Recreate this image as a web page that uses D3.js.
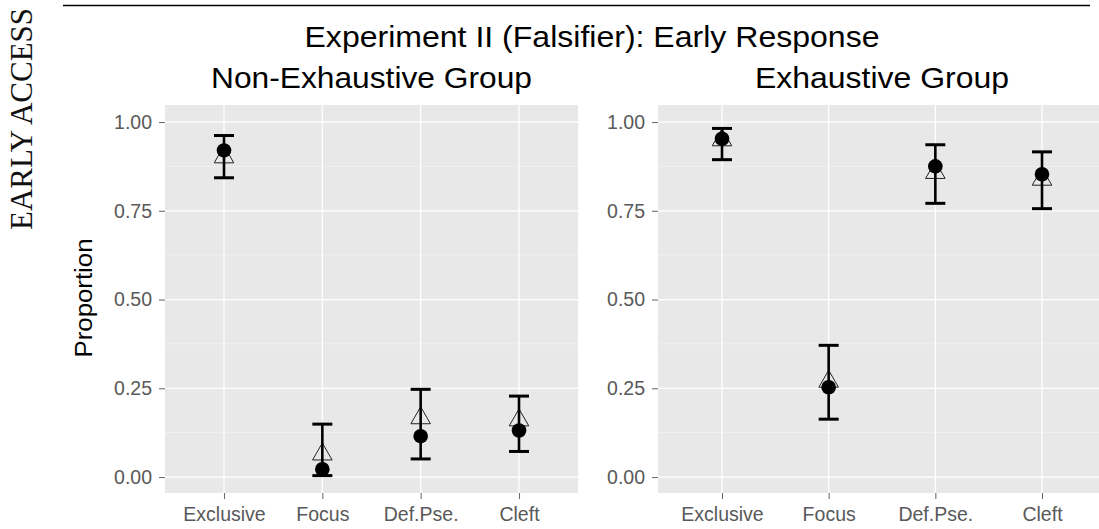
<!DOCTYPE html>
<html>
<head>
<meta charset="utf-8">
<script src="https://cdn.jsdelivr.net/npm/d3@7"></script>
<style>
  html, body { margin: 0; padding: 0; background: #fff; }
  svg { display: block; }
  text { font-family: "Liberation Sans", Arial, sans-serif; }
</style>
</head>
<body>
<svg id="chart" width="1099" height="529"></svg>
<script>
// ---- data ----
const categories = ["Exclusive", "Focus", "Def.Pse.", "Cleft"];
const yTicks = [0, 0.25, 0.5, 0.75, 1];
const yMinor = [0.125, 0.375, 0.625, 0.875];

const mainTitle = "Experiment II (Falsifier): Early Response";
const panelTitles = ["Non-Exhaustive Group", "Exhaustive Group"];
const yLabel = "Proportion";
const sideLabel = "EARLY ACCESS";

// Non-Exhaustive group
const nonExhMean     = [0.920, 0.022, 0.115, 0.131];
const nonExhLower    = [0.843, 0.004, 0.051, 0.072];
const nonExhUpper    = [0.962, 0.149, 0.247, 0.228];
const nonExhTriangle = [0.901, 0.064, 0.166, 0.160];

// Exhaustive group
const exhMean     = [0.953, 0.253, 0.875, 0.853];
const exhLower    = [0.894, 0.163, 0.771, 0.756];
const exhUpper    = [0.982, 0.371, 0.936, 0.916];
const exhTriangle = [0.949, 0.269, 0.857, 0.838];

// ---- drawing ----
const svg = d3.select("#chart");

// top rule
svg.append("line").attr("x1", 63).attr("x2", 1090).attr("y1", 5.5).attr("y2", 5.5)
  .attr("stroke", "#000").attr("stroke-width", 1.6);

// side label
svg.append("text")
  .attr("transform", "translate(32,119) rotate(-90)")
  .attr("text-anchor", "middle")
  .attr("textLength", 222).attr("lengthAdjust", "spacingAndGlyphs")
  .style("font-family", "'Liberation Serif', 'DejaVu Serif', serif")
  .style("font-size", "31px").attr("fill", "#111")
  .text(sideLabel);

// main title
svg.append("text").attr("x", 592).attr("y", 47)
  .attr("text-anchor", "middle")
  .attr("textLength", 575).attr("lengthAdjust", "spacingAndGlyphs")
  .style("font-size", "29px").attr("fill", "#000")
  .text(mainTitle);

// y label
svg.append("text")
  .attr("transform", "translate(92,298) rotate(-90)")
  .attr("text-anchor", "middle")
  .attr("textLength", 119).attr("lengthAdjust", "spacingAndGlyphs")
  .style("font-size", "23px").attr("fill", "#000")
  .text(yLabel);

const panelTop = 105, panelBottom = 493;
const y = d3.scaleLinear().domain([-0.045, 1.048]).range([panelBottom, panelTop]);

function drawPanel(x0, x1, title, titleLen, mean, lower, upper, tri) {
  const x = d3.scalePoint().domain(categories).range([x0, x1]).padding(0.6);
  const g = svg.append("g");

  // panel title
  g.append("text").attr("x", (x0 + x1) / 2).attr("y", 88)
    .attr("text-anchor", "middle")
    .attr("textLength", titleLen).attr("lengthAdjust", "spacingAndGlyphs")
    .style("font-size", "29px").attr("fill", "#000").text(title);

  // background
  g.append("rect").attr("x", x0).attr("y", panelTop)
    .attr("width", x1 - x0).attr("height", panelBottom - panelTop)
    .attr("fill", "#e8e8e8");

  // minor grid
  g.selectAll(".minor").data(yMinor).join("line")
    .attr("x1", x0).attr("x2", x1)
    .attr("y1", d => y(d)).attr("y2", d => y(d))
    .attr("stroke", "#f3f3f3").attr("stroke-width", 0.7);
  // major grid
  g.selectAll(".majorY").data(yTicks).join("line")
    .attr("x1", x0).attr("x2", x1)
    .attr("y1", d => y(d)).attr("y2", d => y(d))
    .attr("stroke", "#fff").attr("stroke-width", 1.3);
  g.selectAll(".majorX").data(categories).join("line")
    .attr("x1", d => x(d)).attr("x2", d => x(d))
    .attr("y1", panelTop).attr("y2", panelBottom)
    .attr("stroke", "#fff").attr("stroke-width", 1.3);

  // axes
  const ya = g.append("g").attr("transform", `translate(${x0},0)`)
    .call(d3.axisLeft(y).tickValues(yTicks).tickFormat(d3.format(".2f"))
      .tickSize(6).tickPadding(7));
  const xa = g.append("g").attr("transform", `translate(0,${panelBottom})`)
    .call(d3.axisBottom(x).tickSize(6).tickPadding(8));
  [ya, xa].forEach(a => {
    a.select(".domain").remove();
    a.selectAll(".tick line").attr("stroke", "#6e6e6e").attr("stroke-width", 1.1);
    a.selectAll(".tick text").attr("fill", "#595959")
      .style("font-size", "19.5px").style("font-family", "'Liberation Sans', Arial, sans-serif");
  });

  const idx = d3.range(categories.length);

  // triangles (open)
  const R = 11.3;
  g.selectAll(".tri").data(idx).join("path")
    .attr("d", i => {
      const cx = x(categories[i]), cy = y(tri[i]);
      return `M${cx},${cy - R}L${cx + 0.866 * R},${cy + R / 2}L${cx - 0.866 * R},${cy + R / 2}Z`;
    })
    .attr("fill", "none").attr("stroke", "#222").attr("stroke-width", 1);

  // error bars
  g.selectAll(".ebv").data(idx).join("line")
    .attr("x1", i => x(categories[i])).attr("x2", i => x(categories[i]))
    .attr("y1", i => y(lower[i])).attr("y2", i => y(upper[i]))
    .attr("stroke", "#000").attr("stroke-width", 2.6);
  const capW = 10;
  g.selectAll(".ebu").data(idx).join("line")
    .attr("x1", i => x(categories[i]) - capW).attr("x2", i => x(categories[i]) + capW)
    .attr("y1", i => y(upper[i])).attr("y2", i => y(upper[i]))
    .attr("stroke", "#000").attr("stroke-width", 3);
  g.selectAll(".ebl").data(idx).join("line")
    .attr("x1", i => x(categories[i]) - capW).attr("x2", i => x(categories[i]) + capW)
    .attr("y1", i => y(lower[i])).attr("y2", i => y(lower[i]))
    .attr("stroke", "#000").attr("stroke-width", 3);

  // circles
  g.selectAll(".pt").data(idx).join("circle")
    .attr("cx", i => x(categories[i])).attr("cy", i => y(mean[i]))
    .attr("r", 7.3).attr("fill", "#000");
}

drawPanel(165, 578, panelTitles[0], 321, nonExhMean, nonExhLower, nonExhUpper, nonExhTriangle);
drawPanel(658, 1106, panelTitles[1], 254, exhMean, exhLower, exhUpper, exhTriangle);
</script>
</body>
</html>
